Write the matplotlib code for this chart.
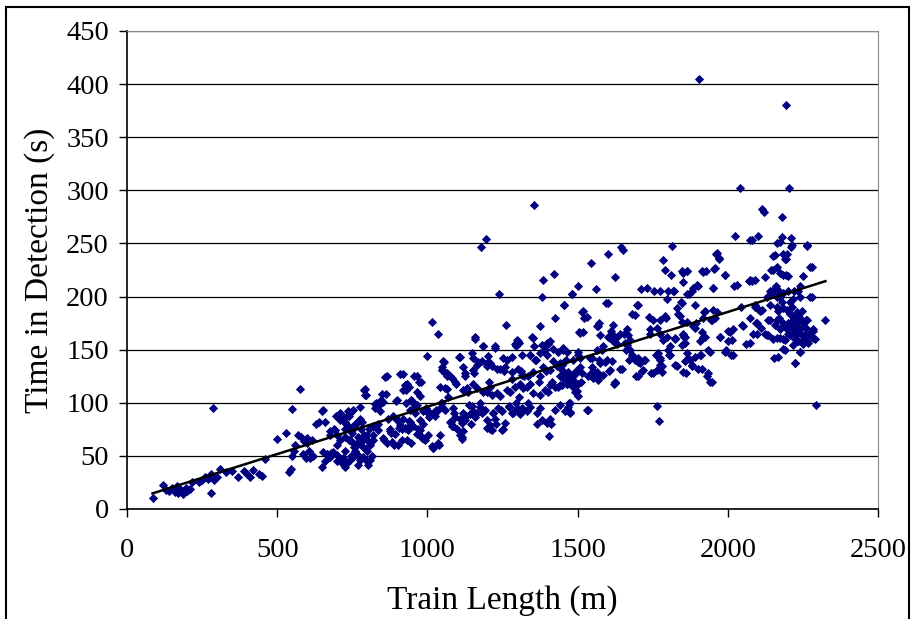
import numpy as np
import matplotlib
matplotlib.use("Agg")
import matplotlib.pyplot as plt

# points in coarse passes (x in m, y in s)
coarse = [
    (85,10),(120,23),(130,18),(140,17),(150,20),(160,16),(165,22),(170,15),(180,18),(185,14),
    (195,20),(200,17),(210,19),(215,25),(240,25),(250,27),(260,30),(270,28),(280,33),(280,15),
    (285,95),(290,27),(300,30),(310,38),(330,35),(350,36),(370,30),(390,36),(400,33),(410,30),
    (420,37),(440,33),(450,31),(460,47),
    (500,66),(530,72),(540,35),(545,38),(550,94),(550,50),(555,55),(560,60),(570,70),(575,113),
    (580,68),(585,52),(590,64),(595,48),(600,62),(600,67),
    (605,55),(610,48),(615,65),(620,50),(630,80),(640,82),(650,92),(650,40),(660,45),(665,52),
    (670,50),(675,70),(680,53),(690,75),(695,88),(700,60),(700,45),
    (705,86),(710,90),(715,45),(720,42),(725,55),(725,75),(730,80),(735,92),(740,88),(740,65),
    (745,50),(750,72),(755,58),(760,55),(760,80),(765,62),(770,68),(770,50),(775,85),(780,75),
    (780,48),(785,58),(790,70),(790,112),(795,107),(800,45),(800,65),(800,55),
    (805,75),(810,60),(815,50),(820,70),(825,95),(830,100),(835,80),(840,98),(850,108),(855,65),
    (860,124),(865,62),(870,85),(875,75),(880,72),(885,88),(890,60),(895,102),(900,85),
    (905,76),(910,127),(915,75),(920,112),(925,117),(930,100),(935,77),(940,83),(945,62),(950,102),
    (955,125),(960,96),(965,110),(970,75),(975,70),(980,120),(985,80),(990,66),(995,95),(1000,144),
    (1005,87),(1010,90),(1015,176),(1020,57),(1025,88),(1030,93),(1035,165),(1040,60),(1045,100),
    (1050,134),(1055,138),(1060,128),(1065,113),(1070,105),(1075,125),(1080,82),(1085,78),(1090,90),
    (1095,118),(1100,75),
    (1105,143),(1110,70),(1115,66),(1120,90),(1125,125),(1130,88),(1135,110),(1140,98),(1145,80),
    (1150,97),(1155,128),(1160,160),(1165,90),(1170,138),(1175,100),(1180,247),(1185,153),(1190,92),
    (1195,254),(1200,110),(1200,137),
    (1205,120),(1210,75),(1215,135),(1220,90),(1225,152),(1230,80),(1240,202),(1245,93),(1250,75),
    (1255,130),(1260,173),(1265,140),(1270,97),(1275,110),(1280,122),(1285,90),(1290,155),(1295,100),
    (1300,158),(1300,92),
    (1305,105),(1310,130),(1315,95),(1320,125),(1330,115),(1335,100),(1340,145),(1350,161),(1355,286),
    (1360,140),(1365,80),(1370,120),(1375,172),(1380,200),(1385,216),(1390,150),(1395,130),(1400,110),
    (1400,155),
    (1405,69),(1410,80),(1415,120),(1420,221),(1425,180),(1430,135),(1435,115),(1440,125),(1450,150),
    (1455,192),(1460,140),(1465,118),(1470,100),(1475,90),(1480,202),(1485,125),(1490,110),(1495,130),
    (1500,210),(1500,145),
    (1505,167),(1510,120),(1515,185),(1520,180),(1530,93),(1540,142),(1545,232),(1550,130),(1555,125),
    (1560,207),(1565,172),(1570,140),(1575,125),(1580,150),(1590,138),(1595,194),(1600,240),(1600,162),
    (1605,130),(1610,168),(1620,118),(1625,218),(1630,155),(1640,132),(1645,247),(1650,244),(1655,165),
    (1660,150),(1670,140),(1680,145),(1690,183),(1695,125),(1700,192),(1700,138),
    (1710,207),(1715,130),(1720,140),(1730,208),(1740,165),(1745,128),(1750,178),(1755,205),(1760,145),
    (1765,97),(1770,83),(1775,140),(1780,135),(1785,234),(1790,225),(1795,180),(1800,205),(1800,150),
    (1805,145),(1810,220),(1815,248),(1820,205),(1825,160),(1830,135),(1840,182),(1845,195),(1850,222),
    (1855,162),(1860,128),(1865,224),(1870,202),(1875,140),(1880,135),(1885,172),(1890,192),(1895,175),
    (1900,132),(1900,210),
    (1905,405),(1910,145),(1915,224),(1920,185),(1925,162),(1930,125),(1935,150),(1940,120),(1945,178),
    (1950,208),(1955,226),(1960,240),(1965,185),(1970,236),(1975,162),(1990,220),(1995,150),(2000,168),
    (2010,145),(2020,210),(2025,257),(2040,302),(2045,190),(2050,172),(2060,155),(2070,215),(2075,253),
    (2080,215),(2085,165),(2090,190),(2095,175),(2100,257),(2100,188),
    (2110,170),(2115,282),(2120,280),(2125,165),(2130,200),(2135,178),(2140,205),(2145,225),(2150,160),
    (2155,142),(2160,210),(2165,250),(2170,180),(2175,200),(2180,256),(2185,240),(2190,235),(2195,380),
    (2195,220),(2200,175),(2200,165),(2200,205),(2180,275),(2150,238),(2165,190),(2185,160),(2190,150),
    (2195,170),
    (2205,302),(2210,247),(2215,190),(2220,180),(2225,137),(2225,160),(2230,185),(2235,170),(2240,148),
    (2240,200),(2245,165),(2250,175),(2255,160),(2260,178),(2265,248),(2270,165),(2275,228),(2280,200),
    (2285,168),(2290,160),(2295,98),(2325,178),(2210,255),(2220,205),(2230,165),(2240,180),(2250,155),
    (2260,170),(2215,170),(2235,158),
]

# extra points read from close-ups of the dense parts
dense_short = [
    (864,125),(918,127),(964,125),(973,120),(933,118),(940,115),(929,112),(793,113),(793,107),
    (862,108),(844,103),(853,101),(826,99),(900,103),(944,103),(953,100),(964,98),(975,106),
    (776,96),(753,93),(742,90),(731,88),(720,87),(704,87),(709,84),(726,82),(737,78),(748,74),
    (765,81),(781,82),(651,93),(659,82),(676,73),(692,74),(698,70),(709,65),(726,68),(742,65),
    (753,62),(765,60),(776,63),(787,65),(798,70),(809,62),(820,65),
    (820,78),(837,74),(853,67),(876,73),(881,63),(892,71),(903,60),(914,65),(931,65),(937,74),
    (953,78),(964,71),(975,74),(981,67),(992,65),(1003,70),(1014,59),(1020,57),(1036,62),(1042,70),
    (986,92),(1003,90),(1020,89),(1036,93),(1047,100),(1059,114),(1042,115),(1047,131),(1064,125),
    (898,84),(909,79),(920,85),(942,82),(925,76),(942,93),(959,90),(975,84),(842,92),(831,79),
    (654,54),(665,52),(676,49),(687,54),(698,51),(709,46),(720,48),(731,43),(742,46),(753,49),
    (765,52),(776,46),(787,49),(798,45),(809,46),(726,40),(770,41),(803,41),
]

dense_mid = [
    (1158,162),(1184,153),(1225,153),(1299,159),(1306,156),(1295,153),(1347,162),(1355,153),
    (1380,154),(1397,156),(1408,158),(1419,151),(1436,148),(1453,152),
    (1109,143),(1147,147),(1153,142),(1203,144),(1208,137),(1253,142),(1281,143),(1314,145),
    (1342,145),(1358,140),(1375,147),(1397,145),(1419,139),(1441,137),(1053,139),
    (1048,131),(1064,128),(1081,123),(1092,120),(1120,134),(1125,128),(1153,131),(1164,136),
    (1181,139),(1197,135),(1231,132),(1242,132),(1258,134),(1281,129),(1303,132),(1314,126),
    (1336,125),(1353,129),(1375,125),(1386,134),(1408,131),
    (1120,112),(1131,114),(1153,118),(1164,114),(1186,110),(1208,115),(1214,107),(1231,109),
    (1242,106),(1264,112),(1292,115),(1308,118),(1319,114),(1342,118),(1353,109),(1375,107),
    (1392,112),(1408,117),(1425,115),(1441,117),(1464,121),
    (1048,96),(1059,93),(1086,95),(1092,87),(1075,82),(1081,78),(1109,85),(1114,81),(1125,84),
    (1142,89),(1153,92),(1159,87),(1175,96),(1181,90),(1192,93),(1197,84),(1208,79),(1220,90),
    (1225,85),(1236,95),(1247,92),(1258,81),(1270,96),(1281,90),(1297,95),(1308,89),(1319,93),
    (1330,92),(1342,96),(1364,90),(1375,95),(1380,84),(1397,81),(1408,85),(1425,93),(1441,98),
    (1458,92),(1469,96),(1114,68),(1214,74),(1247,74),(1197,76),(1120,73),
]

dense_long = [
    (1480,202),(1455,192),(1602,194),(1699,192),(1774,205),(1796,198),(1819,205),(1846,194),
    (1830,189),(1835,184),(1846,176),(1519,186),(1530,181),(1680,184),(1739,181),(1774,178),
    (1791,182),(1572,175),(1569,172),(1508,166),(1519,167),(1575,164),(1619,173),(1613,165),
    (1608,161),(1619,158),(1630,162),(1641,165),(1663,169),(1669,164),(1674,159),(1658,156),
    (1741,169),(1763,170),(1774,165),(1785,159),(1796,162),(1824,161),(1852,164),(1858,156),
    (1586,153),(1563,150),(1452,151),(1464,148),(1502,148),(1508,142),(1486,140),(1458,139),
    (1447,136),(1547,142),(1575,137),(1597,140),(1613,139),(1608,131),(1586,126),(1564,129),
    (1547,134),(1541,126),(1536,125),(1552,123),(1569,121),(1625,120),(1647,132),(1663,154),
    (1674,150),(1680,145),(1691,140),(1702,142),(1708,137),(1724,140),(1719,131),(1769,147),
    (1774,142),(1774,136),(1808,153),(1808,145),(1824,136),(1852,129),(1863,147),(1858,139),
    (1763,131),(1752,128),(1780,129),(1702,125),(1508,134),(1497,129),(1513,128),(1486,125),
    (1475,121),(1464,128),(1452,123),(1447,131),(1458,126),(1469,129),(1480,125),(1491,120),
    (1464,118),(1447,117),(1486,115),(1502,118),(1497,111),(1502,106),(1475,100),(1475,91),
    (1536,93),(1625,119),
]

dense_end = [
    (2079,253),(2174,251),(2213,249),(2263,249),(1963,241),(1972,235),(2157,239),(2196,240),
    (2194,235),(1957,227),(2279,228),(1863,224),(1846,224),(1852,214),(1919,223),(1928,224),
    (1991,220),(2152,225),(2163,228),(2174,222),(2185,220),(2202,219),(2251,219),(2074,216),
    (2091,216),(2124,218),(2030,211),(1952,208),(1896,211),(1885,208),(1880,205),(1863,202),
    (2240,210),(2274,200),(2235,205),(2218,198),(2207,195),(2157,208),(2168,206),(2146,203),
    (2163,200),(2174,202),(2185,203),
    (2140,192),(2179,195),(2185,189),(2168,186),(2196,187),(2207,184),(2218,178),(2235,183),
    (2246,186),(2263,178),(2229,176),(2213,173),(2196,170),(2185,175),(2174,169),(2163,178),
    (2140,178),(2157,173),(2174,161),(2190,159),(2207,164),(2224,167),(2240,169),(2257,165),
    (2251,159),(2235,158),(2218,154),(2263,158),(2285,169),(2285,161),(2135,164),(2163,161),
    (2185,151),(2224,137),(2240,148),(2168,143),(2268,156),
    (2091,192),(2107,186),(2113,187),(2096,175),(2074,180),(2046,173),(2018,169),(2007,167),
    (2013,159),(2002,158),(1974,162),(1991,148),(2018,145),(2074,156),(2096,165),(2129,164),
    (1952,187),(1946,178),(1924,186),(1919,180),(1913,167),(1919,162),(1908,158),(1891,170),
    (1863,176),(1852,165),(1858,162),(1846,154),(1869,142),(1880,136),(1891,143),(1908,145),
    (1913,132),(1935,128),(1946,120),(1941,148),(1957,180),
]

# linear trendline as drawn in the picture (slope in s per m, intercept in s)
trend_slope = 0.0892
trend_intercept = 7.1

pts = np.array(coarse + dense_short + dense_mid + dense_long + dense_end, dtype=float)
length = pts[:, 0]
detect_time = pts[:, 1]

x_ticks = [0, 500, 1000, 1500, 2000, 2500]
y_ticks = [0, 50, 100, 150, 200, 250, 300, 350, 400, 450]

plt.rcParams['font.family'] = ['Liberation Serif', 'DejaVu Serif']

fig = plt.figure(figsize=(9.11, 6.19), dpi=100)
ax = fig.add_axes([127/911, 1 - 509/619, (878-127)/911, (509-31)/619])

ax.scatter(length, detect_time, marker='D', s=22, color='#000080', linewidths=0, zorder=3)

tx = np.array([length.min(), length.max()])
ax.plot(tx, trend_intercept + trend_slope * tx, color='black', lw=1.8, zorder=4)

ax.set_xlim(0, 2500)
ax.set_ylim(0, 450)
ax.set_xticks(x_ticks)
ax.set_yticks(y_ticks)
ax.yaxis.grid(True, color='black', lw=0.9)
ax.set_axisbelow(True)
ax.tick_params(direction='out', length=6, width=1, labelsize=20.5, colors='black')
ax.tick_params(axis='x', pad=15)
ax.tick_params(axis='y', pad=7)

for s in ['top', 'right']:
    ax.spines[s].set_color('#888888')
for s in ['left', 'bottom']:
    ax.spines[s].set_color('black')
    ax.spines[s].set_linewidth(1.2)

ax.set_xlabel('Train Length (m)', fontsize=24, labelpad=16)
ax.set_ylabel('Time in Detection (s)', fontsize=24, labelpad=8)

# outer chart border
fig.patches.append(plt.Rectangle((5.5/911, -0.01), (909-5.5)/911, 1.01 - 7/619,
                                 transform=fig.transFigure, fill=False,
                                 edgecolor='black', lw=1.5))

fig.savefig('out.png', dpi=100)
